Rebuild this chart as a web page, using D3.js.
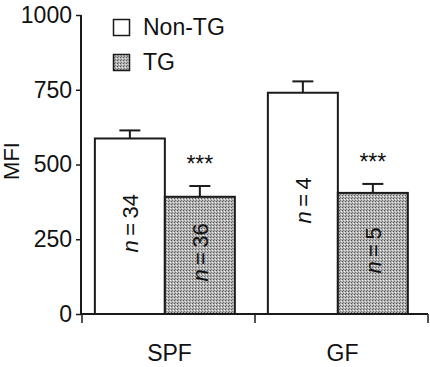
<!DOCTYPE html>
<html><head><meta charset="utf-8">
<script src="https://cdn.jsdelivr.net/npm/d3@7"></script>
<style>
body{margin:0;background:#fff;}
text{font-family:"Liberation Sans",Arial,Helvetica,sans-serif;fill:#111;}
</style></head>
<body><svg id="c" width="430" height="367"></svg>
<script>
const groups = ["SPF", "GF"];
const series = ["Non-TG", "TG"];
const means = [[587, 392], [740, 405]];
const errors = [[27, 36], [38, 30]];
const nLabels = [["34", "36"], ["4", "5"]];
const stars = ["***", "***"];
const yTicks = [0, 250, 500, 750, 1000];
const yLabel = "MFI";

const svg = d3.select("#c");
const ink = "#1a1a1a";
const defs = svg.append("defs");
const pat = defs.append("pattern").attr("id","stip").attr("width",3).attr("height",3).attr("patternUnits","userSpaceOnUse");
pat.append("rect").attr("width",3).attr("height",3).attr("fill","#b4b4b4");
pat.append("rect").attr("x",0).attr("y",0).attr("width",1).attr("height",1).attr("fill","#555555");
pat.append("rect").attr("x",2).attr("y",1).attr("width",1).attr("height",1).attr("fill","#f0f0f0");
pat.append("rect").attr("x",1).attr("y",2).attr("width",1).attr("height",1).attr("fill","#7a7a7a");
const fills = {"Non-TG":"#ffffff","TG":"url(#stip)"};

const y = d3.scaleLinear().domain([0,1000]).range([314,15]);
const x0 = d3.scaleBand().domain(groups).range([81,427]).paddingInner(0).paddingOuter(0);
const x1 = d3.scaleBand().domain(series).range([0,x0.bandwidth()]).paddingInner(0).paddingOuter(0.236).align(0.42);

groups.forEach((g,gi)=>{
  const gx = x0(g);
  series.forEach((s,si)=>{
    const bx = gx + x1(s), bw = x1.bandwidth();
    const v = means[gi][si], e = errors[gi][si];
    const cx = bx + bw/2;
    svg.append("line").attr("x1",cx).attr("x2",cx).attr("y1",y(v)).attr("y2",y(v+e)).attr("stroke",ink).attr("stroke-width",2);
    svg.append("line").attr("x1",cx-10.5).attr("x2",cx+10.5).attr("y1",y(v+e)).attr("y2",y(v+e)).attr("stroke",ink).attr("stroke-width",2);
    svg.append("rect").attr("x",bx).attr("y",y(v)).attr("width",bw).attr("height",y(0)-y(v))
      .attr("fill",fills[s]).attr("stroke",ink).attr("stroke-width",2);
    const my = (y(v)+y(0))/2 - 3;
    const t = svg.append("text").attr("transform",`translate(${cx+8},${my}) rotate(-90)`)
      .attr("text-anchor","middle").attr("font-size",22);
    t.append("tspan").attr("font-style","italic").text("n");
    t.append("tspan").text("\u2009=\u2009"+nLabels[gi][si]);
    if(si===1){
      svg.append("text").attr("x",cx).attr("y",y(v+e)-14).attr("text-anchor","middle")
        .attr("font-size",23).text(stars[gi]);
    }
  });
});

const ya = svg.append("g").attr("transform","translate(81,0)")
  .call(d3.axisLeft(y).tickValues(yTicks).tickSize(5).tickPadding(4).tickFormat(d3.format("d")));
ya.select(".domain").attr("stroke",ink).attr("stroke-width",2).attr("d","M0,15V314");
ya.selectAll(".tick line").attr("stroke",ink).attr("stroke-width",1.5);
ya.selectAll(".tick text").attr("font-size",23).attr("fill","#111").attr("font-family","Liberation Sans, Arial, sans-serif");

const xBounds = [81].concat(groups.map(g=>x0(g)+x0.bandwidth()));
svg.append("line").attr("x1",80).attr("x2",428).attr("y1",y(0)).attr("y2",y(0)).attr("stroke",ink).attr("stroke-width",2);
svg.selectAll(".xt").data(xBounds).enter().append("line")
  .attr("x1",d=>d+1).attr("x2",d=>d+1).attr("y1",y(0)).attr("y2",y(0)+9).attr("stroke",ink).attr("stroke-width",1.5);
groups.forEach(g=>{
  svg.append("text").attr("x",x0(g)+x0.bandwidth()/2+2).attr("y",361).attr("text-anchor","middle")
    .attr("font-size",23).text(g);
});

svg.append("text").attr("transform","translate(19,161) rotate(-90)").attr("text-anchor","middle")
  .attr("font-size",22).text(yLabel);

series.forEach((s,i)=>{
  const ly = 19 + i*35;
  svg.append("rect").attr("x",113.5).attr("y",ly+0.5).attr("width",16).attr("height",16)
    .attr("fill",fills[s]).attr("stroke",ink).attr("stroke-width",1.5);
  svg.append("text").attr("x",143).attr("y",ly+16).attr("font-size",23).text(s);
});
</script></body></html>
